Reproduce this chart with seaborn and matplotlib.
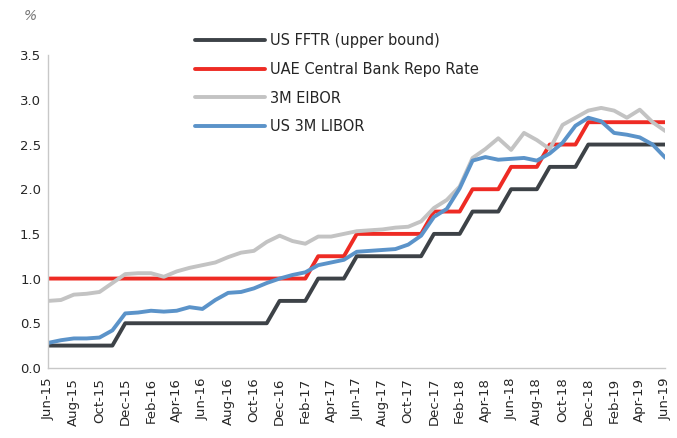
import pandas as pd
import numpy as np
import matplotlib
matplotlib.use("Agg")
import matplotlib.pyplot as plt
import seaborn as sns

months = ['Jun-15', 'Jul-15', 'Aug-15', 'Sep-15', 'Oct-15', 'Nov-15', 'Dec-15',
          'Jan-16', 'Feb-16', 'Mar-16', 'Apr-16', 'May-16', 'Jun-16', 'Jul-16',
          'Aug-16', 'Sep-16', 'Oct-16', 'Nov-16', 'Dec-16',
          'Jan-17', 'Feb-17', 'Mar-17', 'Apr-17', 'May-17', 'Jun-17', 'Jul-17',
          'Aug-17', 'Sep-17', 'Oct-17', 'Nov-17', 'Dec-17',
          'Jan-18', 'Feb-18', 'Mar-18', 'Apr-18', 'May-18', 'Jun-18', 'Jul-18',
          'Aug-18', 'Sep-18', 'Oct-18', 'Nov-18', 'Dec-18',
          'Jan-19', 'Feb-19', 'Mar-19', 'Apr-19', 'May-19', 'Jun-19']

fftr = [0.25]*6 + [0.50]*12 + [0.75]*3 + [1.00]*3 + [1.25]*6 + [1.50]*3 \
       + [1.75]*3 + [2.00]*3 + [2.25]*3 + [2.50]*7
uae_repo = [1.00]*21 + [1.25]*3 + [1.50]*6 + [1.75]*3 + [2.00]*3 \
           + [2.25]*3 + [2.50]*3 + [2.75]*7
eibor = [0.75, 0.76, 0.82, 0.83, 0.85, 0.95, 1.05,
         1.06, 1.06, 1.02, 1.08, 1.12, 1.15, 1.18, 1.24, 1.29, 1.31, 1.41, 1.48,
         1.42, 1.39, 1.47, 1.47, 1.50, 1.53, 1.54, 1.55, 1.57, 1.58, 1.64, 1.79,
         1.88, 2.03, 2.35, 2.45, 2.57, 2.44, 2.63, 2.55, 2.45, 2.72, 2.80, 2.88,
         2.91, 2.88, 2.80, 2.89, 2.75, 2.65]
libor = [0.28, 0.31, 0.33, 0.33, 0.34, 0.42, 0.61,
         0.62, 0.64, 0.63, 0.64, 0.68, 0.66, 0.76, 0.84, 0.85, 0.89, 0.95, 1.00,
         1.04, 1.07, 1.15, 1.18, 1.21, 1.30, 1.31, 1.32, 1.33, 1.38, 1.48, 1.69,
         1.78, 2.01, 2.32, 2.36, 2.33, 2.34, 2.35, 2.32, 2.40, 2.52, 2.71, 2.80,
         2.76, 2.63, 2.61, 2.58, 2.50, 2.35]

names = ['US FFTR (upper bound)', 'UAE Central Bank Repo Rate', '3M EIBOR', 'US 3M LIBOR']
colors = ['#3d4247', '#ee2b24', '#c3c3c3', '#5b93c9']

n = len(months)
df = pd.DataFrame({
    'month': np.tile(np.arange(n), 4),
    'rate': fftr + uae_repo + eibor + libor,
    'series': np.repeat(names, n),
})

sns.set_style("white")
plt.rcParams['font.family'] = ['DejaVu Sans']

fig = plt.figure(figsize=(6.77, 4.38), dpi=100)
ax = fig.add_axes([0.071, 0.16, 0.912, 0.714])

sns.lineplot(data=df, x='month', y='rate', hue='series', hue_order=names,
             palette=colors, linewidth=2.8, ax=ax, legend=False)

ax.set_xlim(0, n - 1)
ax.set_ylim(0, 3.5)
ax.set_yticks(np.arange(0, 3.51, 0.5))
ax.set_yticklabels([f'{v:.1f}' for v in np.arange(0, 3.51, 0.5)], fontsize=9.5)
ax.set_xticks(np.arange(0, n, 2))
ax.set_xticklabels(months[::2], rotation=90, fontsize=9.5)
ax.tick_params(axis='x', length=0, pad=7)
ax.tick_params(axis='y', length=0, pad=5)
ax.set_xlabel('')
ax.set_ylabel('')

for s in ['top', 'right']:
    ax.spines[s].set_visible(False)
for s in ['left', 'bottom']:
    ax.spines[s].set_color('#c8c8c8')
    ax.spines[s].set_linewidth(1.0)

handles = [plt.Line2D([], [], color=c, lw=2.8) for c in colors]
fig.legend(handles, names, loc='upper left', bbox_to_anchor=(0.268, 0.955),
           frameon=False, fontsize=10.5, handlelength=4.8, handletextpad=0.4,
           labelspacing=0.95)

fig.text(0.045, 0.98, '%', fontsize=10, color='#777777', style='italic',
         va='top', ha='center')

fig.savefig('out.png', dpi=100)
